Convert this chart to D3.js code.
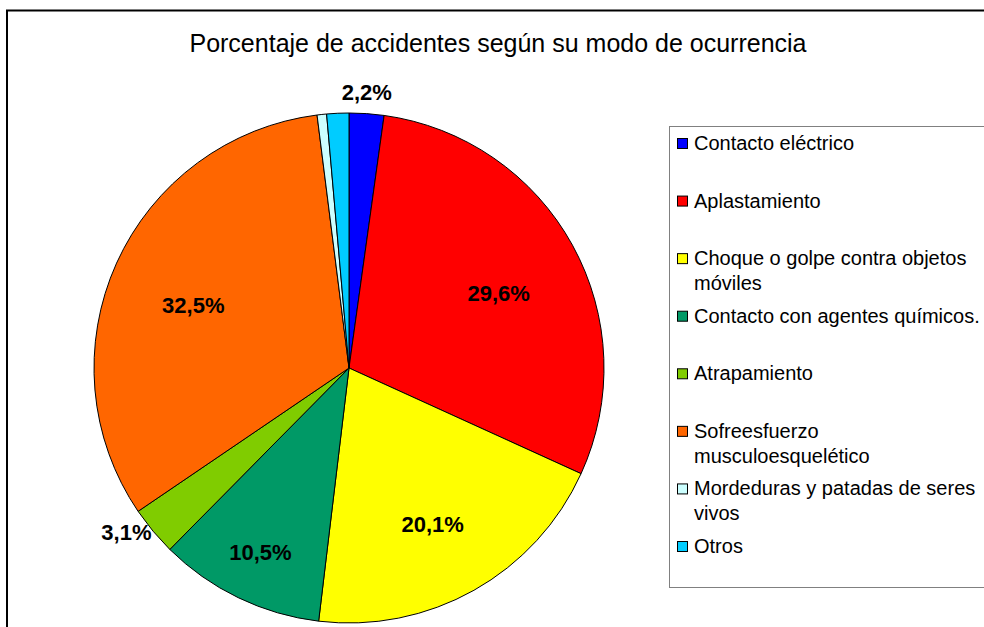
<!DOCTYPE html>
<html>
<head>
<meta charset="utf-8">
<script src="https://cdn.jsdelivr.net/npm/d3@7"></script>
<style>
  html, body { margin: 0; padding: 0; background: #fff; }
  svg { display: block; font-family: "Liberation Sans", Arial, sans-serif; }
</style>
</head>
<body>
<svg id="chart" width="984" height="627"></svg>
<script>
// Accident share by mode of occurrence (percent)
const categories = [
  "Contacto eléctrico",
  "Aplastamiento",
  "Choque o golpe contra objetos móviles",
  "Contacto con agentes químicos.",
  "Atrapamiento",
  "Sofreesfuerzo musculoesquelético",
  "Mordeduras y patadas de seres vivos",
  "Otros"
];
const values = [2.2, 29.6, 20.1, 10.5, 3.1, 32.5, 0.6, 1.4];
const colors = ["#0000FF", "#FF0000", "#FFFF00", "#009966", "#80CC00", "#FF6600", "#CCFFFF", "#00CCFF"];
const title = "Porcentaje de accidentes según su modo de ocurrencia";

const svg = d3.select("#chart");

// chart area frame
svg.append("rect")
  .attr("x", 7).attr("y", 10.5)
  .attr("width", 990).attr("height", 640)
  .attr("fill", "#fff").attr("stroke", "#000").attr("stroke-width", 2);

svg.append("text")
  .attr("x", 498).attr("y", 52)
  .attr("text-anchor", "middle")
  .attr("font-size", 25)
  .attr("fill", "#000")
  .text(title);

// pie
const cx = 349, cy = 368, r = 255;
const data = categories.map((c, i) => ({ name: c, value: values[i], color: colors[i] }));
const pie = d3.pie().value(d => d.value).sort(null);
const arcs = pie(data);
const arc = d3.arc().innerRadius(0).outerRadius(r);

const g = svg.append("g").attr("transform", `translate(${cx},${cy})`);
g.selectAll("path.slice")
  .data(arcs)
  .join("path")
  .attr("class", "slice")
  .attr("d", arc)
  .attr("fill", d => d.data.color)
  .attr("stroke", "#000")
  .attr("stroke-width", 1)
  .attr("stroke-linejoin", "round");

// value labels: large slices inside, narrow slices just outside the rim
const fmt = v => d3.format(".1f")(v).replace(".", ",") + "%";
const mid = d => (d.startAngle + d.endAngle) / 2;
const outside = d => d.data.value < 5;
const labelPos = d => {
  const a = mid(d);
  let rr;
  if (outside(d)) rr = r + 2;
  else if (d.data.value < 15) rr = r * 0.8;
  else rr = r * 0.67;
  return [Math.sin(a) * rr, -Math.cos(a) * rr];
};
const anchor = d => {
  if (!outside(d)) return "middle";
  const s = Math.sin(mid(d));
  return Math.abs(s) < 0.3 ? "middle" : (s > 0 ? "start" : "end");
};
const dyOf = d => {
  if (!outside(d)) return d.data.value < 15 ? "0.36em" : "0.7em";
  return Math.cos(mid(d)) > 0.8 ? "-0.53em" : "0.36em";
};
g.selectAll("text.val")
  .data(arcs.filter(d => d.data.value >= 2))
  .join("text")
  .attr("class", "val")
  .attr("x", d => labelPos(d)[0])
  .attr("y", d => labelPos(d)[1])
  .attr("dy", dyOf)
  .attr("text-anchor", anchor)
  .attr("font-size", 22)
  .attr("font-weight", "bold")
  .attr("fill", "#000")
  .text(d => fmt(d.data.value));

// legend
const lg = svg.append("g");
lg.append("rect")
  .attr("x", 669.5).attr("y", 126.5)
  .attr("width", 330).attr("height", 461)
  .attr("fill", "#fff").attr("stroke", "#808080").attr("stroke-width", 1);

const ly = d3.scalePoint().domain(categories).range([150, 553]);
const maxW = 292, lineH = 25;
const items = lg.selectAll("g.item")
  .data(data)
  .join("g")
  .attr("class", "item");

items.append("rect")
  .attr("x", 677.5)
  .attr("y", d => ly(d.name) - 11.5)
  .attr("width", 10).attr("height", 10)
  .attr("fill", d => d.color)
  .attr("stroke", "#000").attr("stroke-width", 1);

items.each(function (d) {
  const t = d3.select(this).append("text")
    .attr("x", 694).attr("y", ly(d.name))
    .attr("font-size", 20).attr("fill", "#000");
  const words = d.name.split(" ");
  let line = [], tspan = t.append("tspan").attr("x", 694).attr("dy", 0);
  words.forEach(w => {
    line.push(w);
    tspan.text(line.join(" "));
    if (tspan.node().getComputedTextLength() > maxW && line.length > 1) {
      line.pop();
      tspan.text(line.join(" "));
      line = [w];
      tspan = t.append("tspan").attr("x", 694).attr("dy", lineH).text(w);
    }
  });
});
</script>
</body>
</html>
